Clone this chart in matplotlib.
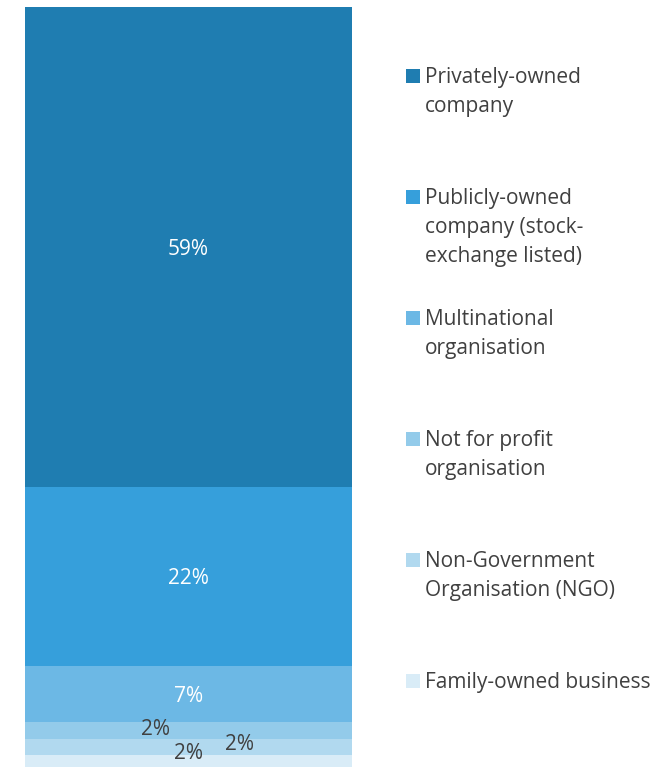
import numpy as np
import matplotlib.pyplot as plt
from matplotlib.patches import Rectangle

plt.rcParams['font.family'] = ['Open Sans', 'DejaVu Sans']

categories = ['Privately-owned\ncompany',
              'Publicly-owned\ncompany (stock-\nexchange listed)',
              'Multinational\norganisation',
              'Not for profit\norganisation',
              'Non-Government\nOrganisation (NGO)',
              'Family-owned business']
shares = [59, 22, 7, 2, 2, 2]
colors = ['#1f7db1', '#369fdb', '#6cb8e5', '#93cbea', '#b1d9ef', '#d9ecf7']
label_colors = ['white', 'white', 'white', '#404040', '#404040', '#404040']
# nudges for the crowded small labels (x in bar-width units, y in % units)
label_dx = [0, 0, 0, -0.1, 0.155, 0]
label_dy = [-0.3, -0.3, -0.25, 0.15, 0.3, 1.2]

W, H = 663, 767
fig = plt.figure(figsize=(W / 100, H / 100), dpi=100)
total = sum(shares)
px_per_pct = 8.13
ax_h = total * px_per_pct
ax = fig.add_axes([25 / W, (H - 7 - ax_h) / H, 327 / W, ax_h / H])

# stack from the bottom: last category sits at the base
bottom = 0
for i in range(len(shares) - 1, -1, -1):
    ax.bar(0, shares[i], width=1, bottom=bottom, color=colors[i], linewidth=0)
    ax.text(label_dx[i], bottom + shares[i] / 2 + label_dy[i], f'{shares[i]}%',
            ha='center', va='center', fontsize=15, color=label_colors[i])
    bottom += shares[i]

ax.set_xlim(-0.5, 0.5)
ax.set_ylim(0, total)
ax.axis('off')

# legend on the right, one entry every ~121 px, 29 px per text line
for i, name in enumerate(categories):
    base = 83 + i * 121
    fig.patches.append(Rectangle((406 / W, 1 - base / H), 14 / W, 14 / H,
                                 transform=fig.transFigure, color=colors[i],
                                 linewidth=0))
    for k, line in enumerate(name.split('\n')):
        fig.text(425 / W, 1 - (base + k * 29) / H, line, ha='left',
                 va='baseline', fontsize=15, color='#404040')

fig.savefig('out.png', dpi=100)
